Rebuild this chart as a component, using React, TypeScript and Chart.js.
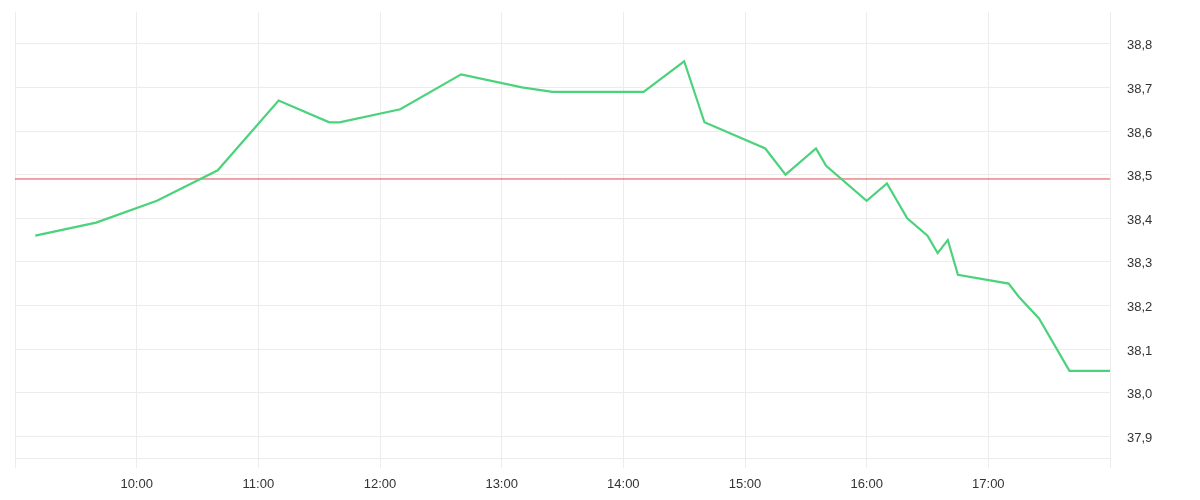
import { useEffect, useRef } from "react"
import { Chart, registerables } from "chart.js"

Chart.register(...registerables)

// Intraday prices
const times = [
  "9:10", "9:40", "10:10", "10:40", "11:10", "11:35", "11:40", "12:10", "12:40", "13:10",
  "13:25", "14:10", "14:30", "14:40", "15:10", "15:20", "15:35", "15:40", "16:00", "16:10",
  "16:20", "16:30", "16:35", "16:40", "16:45", "17:10", "17:15", "17:25", "17:40", "18:00",
]
const prices = [
  38.36, 38.39, 38.44, 38.51, 38.67, 38.62, 38.62, 38.65, 38.73, 38.70,
  38.69, 38.69, 38.76, 38.62, 38.56, 38.50, 38.56, 38.52, 38.44, 38.48,
  38.40, 38.36, 38.32, 38.35, 38.27, 38.25, 38.22, 38.17, 38.05, 38.05,
]
// previous close reference line
const referencePrice = 38.49
const sessionHours = [9, 18]
const priceRange = [37.85, 38.873]

const GRID = "#ececec"
const TEXT = "#333333"

const toHours = (t: string) => {
  const [h, m] = t.split(":").map(Number)
  return h + m / 60
}

const isRoundTenth = (v: number) => Math.abs(v * 10 - Math.round(v * 10)) < 1e-6

export default function App() {
  const chartRef = useRef<HTMLCanvasElement>(null)
  const chartInstance = useRef<Chart | null>(null)

  useEffect(() => {
    if (!chartRef.current) return
    if (chartInstance.current) chartInstance.current.destroy()

    const ctx = chartRef.current.getContext("2d")
    if (!ctx) return

    const font = { family: "'Liberation Sans', Arial, sans-serif", size: 13 }

    chartInstance.current = new Chart(ctx, {
      type: "line",
      data: {
        datasets: [
          {
            label: "Price",
            data: times.map((t, i) => ({ x: toHours(t), y: prices[i] })),
            borderColor: "#4cd27c",
            borderWidth: 2.2,
            pointRadius: 0,
            tension: 0,
          },
          {
            label: "Reference",
            data: sessionHours.map((h) => ({ x: h, y: referencePrice })),
            borderColor: "#e04a4d",
            borderWidth: 1,
            pointRadius: 0,
            tension: 0,
          },
        ],
      },
      options: {
        animation: false,
        responsive: true,
        maintainAspectRatio: false,
        layout: { padding: { left: 7, top: 4, right: 0, bottom: 0 } },
        plugins: {
          legend: { display: false },
          tooltip: { enabled: false },
        },
        scales: {
          x: {
            type: "linear",
            min: sessionHours[0],
            max: sessionHours[1],
            afterFit: (scale) => {
              scale.height = 34
              scale.paddingLeft = 0
              scale.paddingRight = 0
            },
            grid: {
              color: GRID,
              tickColor: GRID,
              tickLength: 10,
              drawTicks: true,
            },
            border: { color: GRID },
            ticks: {
              stepSize: 1,
              padding: 9,
              color: TEXT,
              font,
              maxRotation: 0,
              autoSkip: false,
              callback: (value) => {
                const v = Number(value)
                if (v <= sessionHours[0] || v >= sessionHours[1]) return ""
                return `${v}:00`
              },
            },
          },
          y: {
            position: "right",
            min: priceRange[0],
            max: priceRange[1],
            afterFit: (scale) => {
              scale.width = 82
              scale.paddingTop = 0
              scale.paddingBottom = 0
            },
            grid: {
              drawTicks: false,
              color: (c) => (c.tick && isRoundTenth(c.tick.value) ? GRID : "rgba(0,0,0,0)"),
            },
            border: { color: GRID },
            ticks: {
              stepSize: 0.1,
              padding: 17,
              labelOffset: 2,
              color: TEXT,
              font,
              callback: (value) => {
                const v = Number(value)
                if (!isRoundTenth(v)) return ""
                return v.toFixed(1).replace(".", ",")
              },
            },
          },
        },
      },
    })

    return () => {
      if (chartInstance.current) {
        chartInstance.current.destroy()
        chartInstance.current = null
      }
    }
  }, [])

  return (
    <div style={{ width: "100%", height: 484 }}>
      <canvas ref={chartRef} />
    </div>
  )
}
